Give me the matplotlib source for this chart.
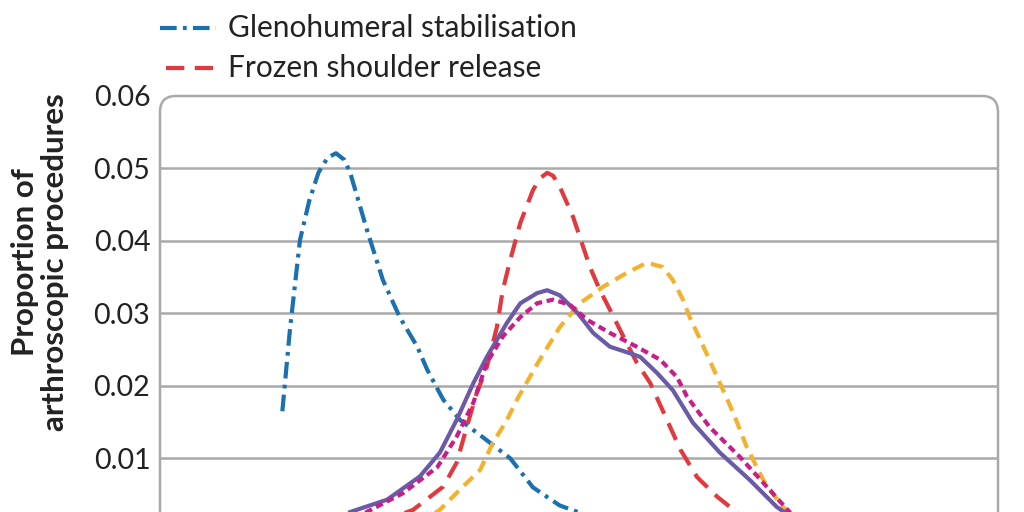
import matplotlib.pyplot as plt
from matplotlib.lines import Line2D
from matplotlib.patches import FancyBboxPatch

plt.rcParams['font.family'] = ['Lato', 'DejaVu Sans']

# age (years) and proportion of arthroscopic procedures
gleno_age = [14.6, 15.5, 16.7, 17.8, 18.9, 20.0, 21.0, 22.0, 22.7, 24.7, 26.6, 28.6,
             30.7, 31.9, 33.8, 35.8, 38.2, 41.8, 44.5, 47.7, 51.3]
gleno_val = [0.0165, 0.0277, 0.0401, 0.0455, 0.0494, 0.0515, 0.0521, 0.0512, 0.0494,
             0.0415, 0.0346, 0.0295, 0.0254, 0.0222, 0.0181, 0.0153, 0.0132, 0.0100,
             0.0060, 0.0035, 0.0020]

frozen_age = [28.6, 30.2, 33.8, 35.4, 36.6, 37.8, 39.0, 40.2, 40.9, 41.8, 43.0, 44.5,
              45.3, 46.2, 46.9, 47.7, 49.3, 51.3, 52.5, 53.7, 55.3, 56.9, 58.5, 60.5,
              62.1, 64.1, 66.5, 69.2]
frozen_val = [0.0022, 0.0029, 0.0061, 0.0094, 0.0143, 0.0190, 0.0226, 0.0281, 0.0332,
              0.0374, 0.0425, 0.0470, 0.0486, 0.0494, 0.0490, 0.0475, 0.0433, 0.0364,
              0.0332, 0.0305, 0.0268, 0.0232, 0.0204, 0.0153, 0.0112, 0.0074, 0.0047,
              0.0022]

yellow_age = [32.2, 33.4, 35.8, 38.2, 39.7, 41.4, 42.6, 45.0, 47.7, 50.1, 52.9, 55.7,
              58.1, 60.0, 61.2, 62.4, 63.2, 64.5, 66.5, 68.4, 70.0, 72.0, 74.3, 75.8]
yellow_val = [0.0020, 0.0029, 0.0057, 0.0084, 0.0121, 0.0153, 0.0181, 0.0230, 0.0281,
              0.0314, 0.0337, 0.0356, 0.0370, 0.0364, 0.0346, 0.0319, 0.0295, 0.0263,
              0.0212, 0.0163, 0.0116, 0.0070, 0.0033, 0.0020]

purple_age = [22.7, 27.1, 31.0, 33.4, 35.4, 37.4, 39.0, 41.4, 43.0, 45.0, 46.2, 47.7,
              49.8, 51.7, 53.7, 56.1, 57.3, 59.3, 61.2, 63.6, 66.8, 70.4, 73.6, 75.2]
purple_val = [0.0026, 0.0043, 0.0075, 0.0108, 0.0153, 0.0204, 0.0240, 0.0287, 0.0314,
              0.0328, 0.0332, 0.0325, 0.0301, 0.0273, 0.0254, 0.0245, 0.0240, 0.0218,
              0.0194, 0.0149, 0.0108, 0.0070, 0.0033, 0.0020]

magenta_age = [24.5, 29.0, 33.1, 35.4, 37.4, 39.0, 40.9, 43.0, 45.0, 46.9, 48.9, 51.0,
               53.7, 56.9, 59.7, 61.7, 62.9, 65.6, 69.2, 72.4, 75.2]
magenta_val = [0.0025, 0.0052, 0.0088, 0.0130, 0.0177, 0.0232, 0.0268, 0.0295, 0.0314,
               0.0319, 0.0312, 0.0291, 0.0273, 0.0254, 0.0236, 0.0212, 0.0185, 0.0143,
               0.0102, 0.0061, 0.0025]

yticks = [0.01, 0.02, 0.03, 0.04, 0.05, 0.06]

BLUE = '#1b70b0'
RED = '#e0393e'
YELLOW = '#f3b12d'
PURPLE = '#6b5aa8'
MAGENTA = '#c81e8a'
GRID = '#a9a9a9'

fig = plt.figure(figsize=(10.24, 5.12), dpi=100)
ax = fig.add_axes([160 / 1024, 0, 838 / 1024, 1 - 96 / 512])

lw = 3.0
kw = dict(lw=lw, solid_joinstyle='round', dash_joinstyle='round')
ax.plot(gleno_age, gleno_val, color=BLUE, dashes=(4.0, 1.5, 0.9, 1.5), **kw)
ax.plot(yellow_age, yellow_val, color=YELLOW, dashes=(3.0, 1.8), **kw)
ax.plot(frozen_age, frozen_val, color=RED, dashes=(4.4, 2.5), **kw)
ax.plot(purple_age, purple_val, color=PURPLE, **kw)
ax.plot(magenta_age, magenta_val, color=MAGENTA, dashes=(1.8, 1.1), **kw)

ax.set_xlim(0, 100)
ax.set_ylim(0.0026, 0.06)
ax.set_yticks(yticks)
ax.set_yticklabels(['%.2f' % t for t in yticks], fontsize=20.5, color='#222222')
ax.tick_params(axis='y', length=0, pad=7)
ax.set_xticks([])
for t in yticks[:-1]:
    ax.axhline(t, color=GRID, lw=1.8, zorder=0)
for s in ax.spines.values():
    s.set_visible(False)
ax.patch.set_visible(False)

# rounded frame around the plot area
frame = FancyBboxPatch((1.60, -0.5), 8.38, 4.66, boxstyle='round,pad=0,rounding_size=0.16',
                       transform=fig.dpi_scale_trans, fill=False, ec=GRID, lw=1.8,
                       zorder=0)
fig.patches.append(frame)

fig.text(40 / 1024, 1 - 262 / 512, 'Proportion of\narthroscopic procedures', rotation=90,
         ha='center', va='center', fontsize=22.5, fontweight='bold', color='#222222',
         linespacing=1.05)

# legend (manual)
def px(x, y):
    return x / 1024, 1 - y / 512

x0, y0 = px(160, 28)
x1, _ = px(216, 28)
fig.add_artist(Line2D([x0, x1], [y0, y0], color=BLUE, lw=lw,
                      dashes=(4.0, 1.5, 0.9, 1.5), transform=fig.transFigure))
fig.text(px(228, 28)[0], y0, 'Glenohumeral stabilisation', fontsize=21.5,
         va='center', ha='left', color='#222222')
x0, y0 = px(166, 68)
fig.add_artist(Line2D([x0, x1], [y0, y0], color=RED, lw=lw,
                      dashes=(4.4, 2.5), transform=fig.transFigure))
fig.text(px(228, 68)[0], y0, 'Frozen shoulder release', fontsize=21.5,
         va='center', ha='left', color='#222222')

fig.savefig('out.png', dpi=100)
